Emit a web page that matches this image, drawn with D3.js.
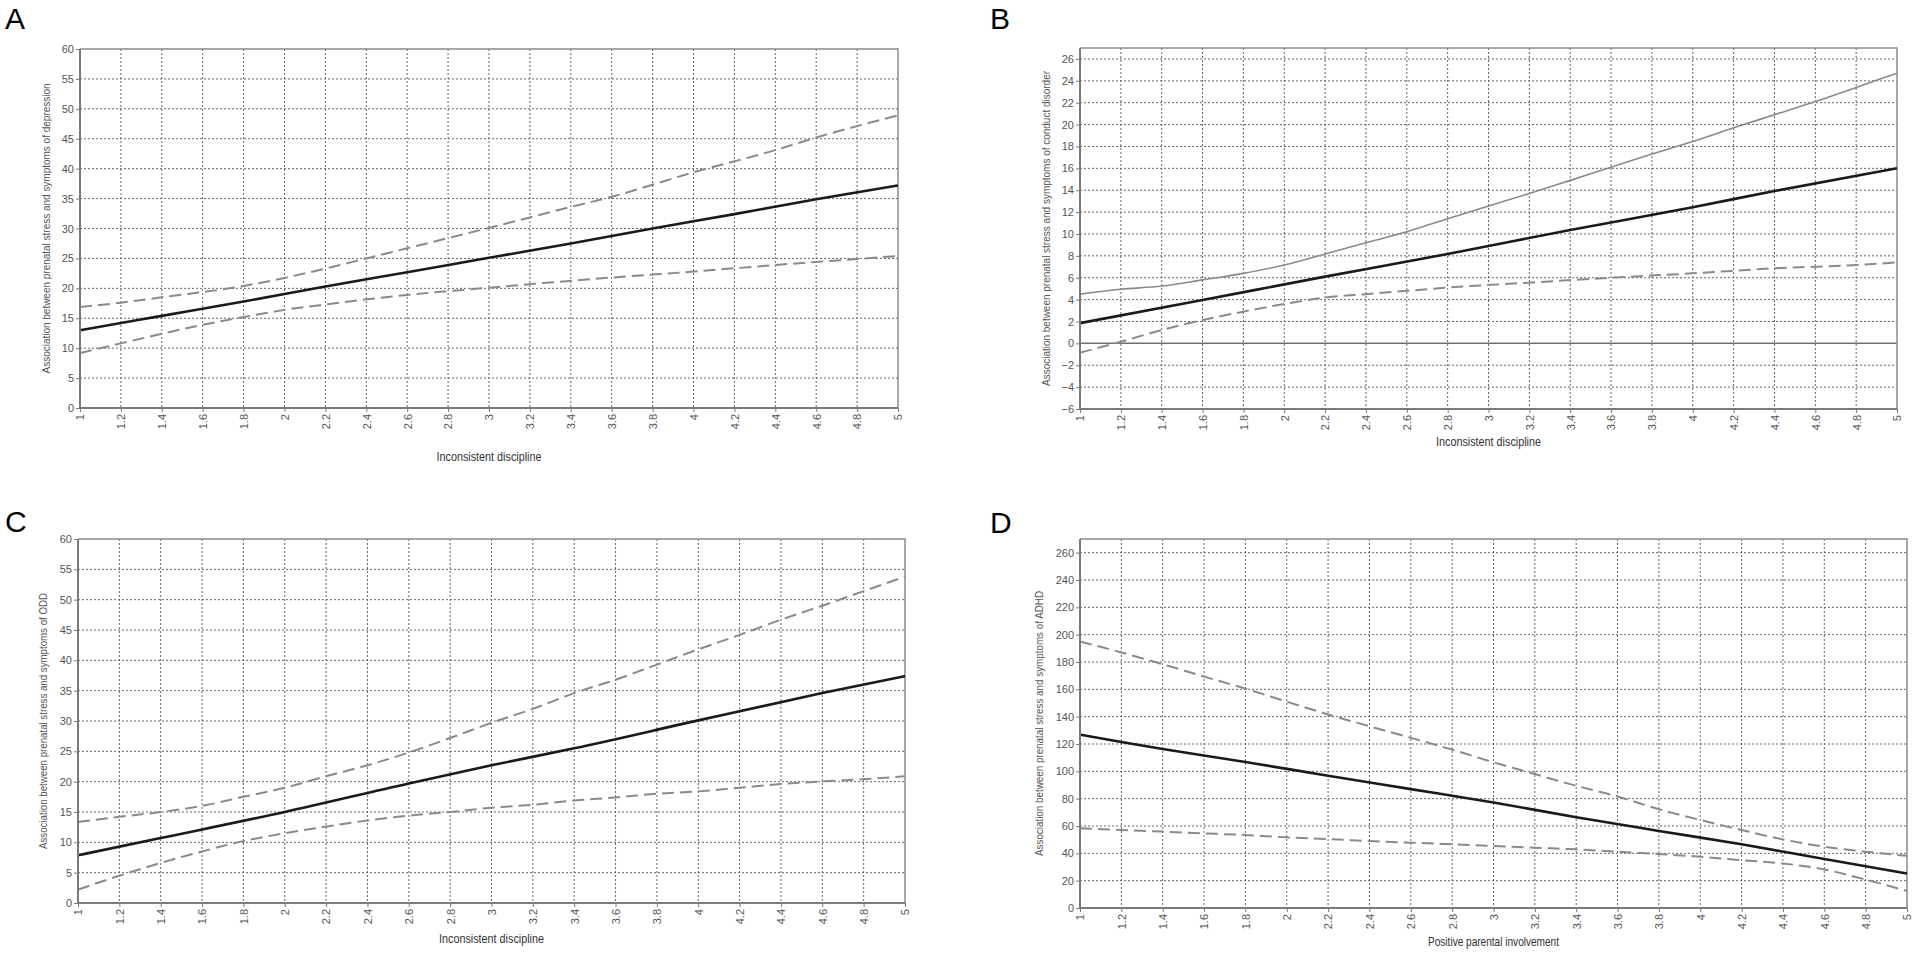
<!DOCTYPE html>
<html>
<head>
<meta charset="utf-8">
<script src="https://cdn.jsdelivr.net/npm/d3@7"></script>
<style>
  html, body { margin: 0; padding: 0; background: #fff; }
  svg { display: block; }
  .tick text { font-family: "Liberation Sans", Arial, sans-serif; font-size: 11px; fill: #555; }
</style>
</head>
<body>
<svg id="chart" width="1920" height="958"></svg>
<script>
// ---------- shared tick data ----------
const xTicks = [1,1.2,1.4,1.6,1.8,2,2.2,2.4,2.6,2.8,3,3.2,3.4,3.6,3.8,4,4.2,4.4,4.6,4.8,5];
const xTickLabels = ["1","1.2","1.4","1.6","1.8","2","2.2","2.4","2.6","2.8","3","3.2","3.4","3.6","3.8","4","4.2","4.4","4.6","4.8","5"];

// ---------- Panel A: depression ----------
const yTicksA = [0,5,10,15,20,25,30,35,40,45,50,55,60];
const estA_x = [1,1.2,1.4,1.8,2.2,2.6,3,3.4,3.8,4.2,4.6,5];
const estA_y = [13.0,14.2,15.4,17.8,20.3,22.7,25.1,27.5,30.0,32.4,34.9,37.2];
const upA_x = [1,1.2,1.4,1.8,2.2,2.4,2.6,3,3.4,3.6,4,4.4,4.6,5];
const upA_y = [16.9,17.6,18.5,20.4,23.3,25.0,26.7,30.1,33.6,35.3,39.4,43.1,45.2,48.9];
const loA_x = [1,1.2,1.4,1.6,1.8,2,2.2,2.6,3,3.2,3.6,4,4.4,4.8,5];
const loA_y = [9.2,10.8,12.4,13.9,15.2,16.4,17.3,18.9,20.1,20.7,21.8,22.8,23.9,24.9,25.4];

// ---------- Panel B: conduct disorder ----------
const yTicksB = [-6,-4,-2,0,2,4,6,8,10,12,14,16,18,20,22,24,26];
const estB_x = [1,1.6,2.2,2.8,3.4,4,4.4,5];
const estB_y = [1.85,3.96,6.1,8.17,10.37,12.44,13.93,16.0];
const upB_x = [1,1.2,1.4,1.6,1.8,2,2.2,2.4,2.6,2.8,3,3.2,3.4,3.6,3.8,4,4.2,4.4,4.6,4.8,5];
const upB_y = [4.5,4.94,5.24,5.8,6.4,7.16,8.17,9.2,10.2,11.4,12.56,13.7,14.9,16.1,17.3,18.45,19.7,20.9,22.1,23.4,24.7];
const loB_x = [1,1.2,1.4,1.6,1.8,2,2.2,2.4,2.6,2.8,3.2,3.6,4,4.4,4.8,5];
const loB_y = [-0.85,0.15,1.22,2.13,2.9,3.6,4.18,4.5,4.8,5.1,5.55,6.0,6.4,6.86,7.16,7.4];

// ---------- Panel C: ODD ----------
const yTicksC = [0,5,10,15,20,25,30,35,40,45,50,55,60];
const estC_x = [1,1.4,2,2.6,3,3.4,4,4.6,5];
const estC_y = [7.86,10.7,15.0,19.7,22.7,25.5,30.1,34.6,37.4];
const upC_x = [1,1.2,1.4,1.6,1.8,2,2.2,2.4,2.6,2.8,3,3.2,3.4,3.6,3.8,4,4.2,4.4,4.6,4.8,5];
const upC_y = [13.35,14.2,15.0,16.0,17.5,19.0,20.9,22.7,24.8,27.2,29.7,32.0,34.6,36.8,39.3,41.8,44.2,46.7,49.0,51.4,53.8];
const loC_x = [1,1.2,1.4,1.6,1.8,2,2.2,2.4,2.6,2.8,3,3.2,3.4,3.6,3.8,4,4.2,4.4,4.6,4.8,5];
const loC_y = [2.2,4.5,6.6,8.5,10.2,11.5,12.6,13.6,14.4,15.0,15.7,16.2,16.9,17.4,18.0,18.4,19.0,19.6,20.05,20.4,20.9];

// ---------- Panel D: ADHD ----------
const yTicksD = [0,20,40,60,80,100,120,140,160,180,200,220,240,260];
const estD_x = [1,1.2,1.4,1.8,2.2,2.6,3,3.4,3.8,4.2,4.6,5];
const estD_y = [126.9,121.5,116.4,106.8,96.8,87.0,77.2,66.4,56.4,46.6,35.8,25.2];
const upD_x = [1,1.2,1.4,1.6,1.8,2,2.2,2.4,2.6,2.8,3,3.2,3.4,3.6,3.8,4,4.2,4.4,4.6,4.8,5];
const upD_y = [195,187,178.4,169.3,160.5,151,141.6,133,124.5,115.9,106.6,98,89.4,81.6,72.3,64.4,57.1,50.2,44.8,41.2,38.2];
const loD_x = [1,1.2,1.4,1.6,1.8,2,2.2,2.4,2.6,2.8,3,3.2,3.4,3.6,3.8,4,4.2,4.4,4.6,4.8,5];
const loD_y = [58.3,57.1,55.9,54.6,53.4,51.7,50.5,49.0,47.8,46.6,45.3,44.1,42.9,41.2,39.5,37.5,35.0,32.6,28.2,20.8,12.5];

// ---------- styles ----------
const STY = {
  est:    { stroke: "#1a1a1a", width: 2.6, dash: null },
  ciDash: { stroke: "#8a8a8a", width: 2, dash: "12,6" },
  ciSolid:{ stroke: "#8a8a8a", width: 1.6, dash: null }
};

const panels = [
  { letter: "A", lx: 5, ly: 29, left: 80, right: 898, top: 49, bottom: 408, yDomain: [0, 60], yTicks: yTicksA,
    yTitle: "Association between prenatal stress and symptoms of depression", yTitleX: 46, yTitleLen: 290,
    xTitle: "Inconsistent discipline", xTitleY: 461, xTitleLen: 105, zero: false,
    series: [[loA_x, loA_y, STY.ciDash], [upA_x, upA_y, STY.ciDash], [estA_x, estA_y, STY.est]] },
  { letter: "B", lx: 990, ly: 29, left: 1080, right: 1897, top: 48, bottom: 409, yDomain: [-6, 27], yTicks: yTicksB,
    yTitle: "Association between prenatal stress and symptoms of conduct disorder", yTitleX: 1046, yTitleLen: 315,
    xTitle: "Inconsistent discipline", xTitleY: 446, xTitleLen: 105, zero: true,
    series: [[loB_x, loB_y, STY.ciDash], [upB_x, upB_y, STY.ciSolid], [estB_x, estB_y, STY.est]] },
  { letter: "C", lx: 5, ly: 532, left: 78, right: 905, top: 539, bottom: 903, yDomain: [0, 60], yTicks: yTicksC,
    yTitle: "Association between prenatal stress and symptoms of ODD", yTitleX: 43, yTitleLen: 256,
    xTitle: "Inconsistent discipline", xTitleY: 943, xTitleLen: 105, zero: false,
    series: [[loC_x, loC_y, STY.ciDash], [upC_x, upC_y, STY.ciDash], [estC_x, estC_y, STY.est]] },
  { letter: "D", lx: 990, ly: 533, left: 1080, right: 1907, top: 539, bottom: 908, yDomain: [0, 270], yTicks: yTicksD,
    yTitle: "Association between prenatal stress and symptoms of ADHD", yTitleX: 1039, yTitleLen: 265,
    xTitle: "Positive parental involvement", xTitleY: 946, xTitleLen: 131, zero: false,
    series: [[loD_x, loD_y, STY.ciDash], [upD_x, upD_y, STY.ciDash], [estD_x, estD_y, STY.est]] }
];

const svg = d3.select("#chart");

panels.forEach(p => {
  const x = d3.scaleLinear().domain([1, 5]).range([p.left, p.right]);
  const y = d3.scaleLinear().domain(p.yDomain).range([p.bottom, p.top]);
  const g = svg.append("g");

  // panel letter
  svg.append("text").attr("x", p.lx).attr("y", p.ly)
    .style("font-family", "'Liberation Sans', Arial, sans-serif").style("font-size", "30px").style("fill", "#000")
    .text(p.letter);

  // vertical grid
  g.append("g").selectAll("line").data(xTicks.filter(d => d > 1 && d < 5)).join("line")
    .attr("x1", d => x(d)).attr("x2", d => x(d)).attr("y1", p.top).attr("y2", p.bottom)
    .attr("stroke", "#666").attr("stroke-width", 1).attr("stroke-dasharray", "2,2");

  // horizontal grid
  g.append("g").selectAll("line")
    .data(p.yTicks.filter(d => d !== p.yDomain[0] && y(d) > p.top + 1 && !(p.zero && d === 0))).join("line")
    .attr("x1", p.left).attr("x2", p.right).attr("y1", d => y(d)).attr("y2", d => y(d))
    .attr("stroke", "#666").attr("stroke-width", 1).attr("stroke-dasharray", "2,2");

  // zero reference line
  if (p.zero) {
    g.append("line").attr("x1", p.left).attr("x2", p.right).attr("y1", y(0)).attr("y2", y(0))
      .attr("stroke", "#707070").attr("stroke-width", 1.5);
  }

  // frame (top/right)
  g.append("path")
    .attr("d", `M${p.left},${p.top}H${p.right}V${p.bottom}`)
    .attr("fill", "none").attr("stroke", "#8c8c8c").attr("stroke-width", 1.5);

  // series
  const line = d3.line().x(d => x(d[0])).y(d => y(d[1])).curve(d3.curveMonotoneX);
  p.series.forEach(([xs, ys, st]) => {
    const pts = xs.map((v, i) => [v, ys[i]]);
    g.append("path").datum(pts).attr("d", line)
      .attr("fill", "none").attr("stroke", st.stroke).attr("stroke-width", st.width)
      .attr("stroke-dasharray", st.dash).attr("stroke-linejoin", "round");
  });

  // y axis
  const ya = g.append("g").attr("transform", `translate(${p.left},0)`)
    .call(d3.axisLeft(y).tickValues(p.yTicks).tickSize(4).tickPadding(2).tickFormat(d3.format("d")));
  ya.select(".domain").attr("stroke", "#7a7a7a").attr("stroke-width", 2)
    .attr("d", `M0,${p.top}V${p.bottom}`);
  ya.selectAll(".tick line").attr("stroke", "#7a7a7a");

  // x axis
  const xa = g.append("g").attr("transform", `translate(0,${p.bottom})`)
    .call(d3.axisBottom(x).tickValues(xTicks).tickSize(4).tickFormat((d, i) => xTickLabels[i]));
  xa.select(".domain").attr("stroke", "#7a7a7a").attr("stroke-width", 2)
    .attr("d", `M${p.left},0H${p.right}`);
  xa.selectAll(".tick line").attr("stroke", "#7a7a7a");
  xa.selectAll(".tick text")
    .attr("y", 0).attr("x", -6).attr("dy", "0.35em")
    .attr("transform", "rotate(-90)").style("text-anchor", "end");

  // axis titles
  svg.append("text")
    .attr("transform", `translate(${p.yTitleX},${(p.top + p.bottom) / 2}) rotate(-90)`)
    .attr("text-anchor", "middle").attr("dy", "0.35em")
    .attr("textLength", p.yTitleLen).attr("lengthAdjust", "spacingAndGlyphs")
    .style("font-family", "'Liberation Sans', Arial, sans-serif").style("font-size", "10px").style("fill", "#555")
    .text(p.yTitle);

  svg.append("text")
    .attr("x", (p.left + p.right) / 2).attr("y", p.xTitleY)
    .attr("text-anchor", "middle")
    .attr("textLength", p.xTitleLen).attr("lengthAdjust", "spacingAndGlyphs")
    .style("font-family", "'Liberation Sans', Arial, sans-serif")
    .style("font-size", "12.5px").style("fill", "#333")
    .text(p.xTitle);
});
</script>
</body>
</html>
